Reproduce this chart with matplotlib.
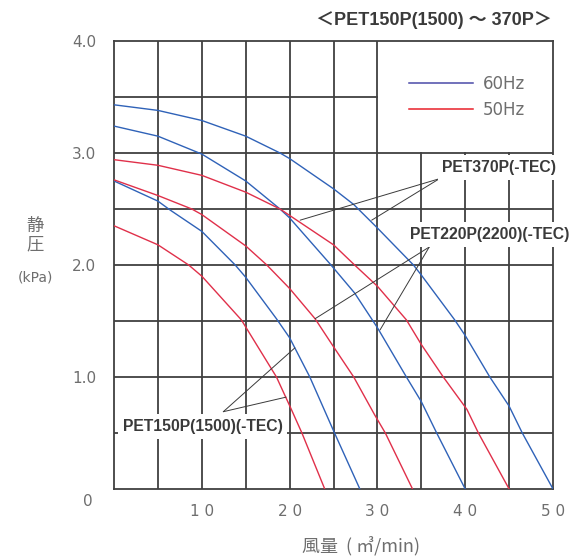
import matplotlib.pyplot as plt
from matplotlib.lines import Line2D

# fan curves: airflow (m3/min) vs static pressure (kPa)
x370_60 = [0, 5, 10, 15, 18.9, 20, 25, 27.3, 30, 34.1, 35, 38.8, 40, 42.8, 45, 46.5, 50]
y370_60 = [3.43, 3.38, 3.29, 3.15, 3.0, 2.95, 2.68, 2.54, 2.33, 2.0, 1.91, 1.51, 1.37, 1.0, 0.74, 0.5, 0]
x370_50 = [0, 5, 10, 15, 18.9, 25, 27.4, 30, 33.3, 35, 37.5, 40.2, 41.5, 45]
y370_50 = [2.94, 2.89, 2.80, 2.65, 2.5, 2.18, 2.0, 1.81, 1.51, 1.29, 1.0, 0.71, 0.5, 0]
x220_60 = [0, 5, 10, 15, 18.9, 20, 24.6, 27.4, 30, 33.3, 35, 36.75, 40]
y220_60 = [3.24, 3.15, 2.99, 2.75, 2.5, 2.42, 2.01, 1.75, 1.44, 1.0, 0.78, 0.5, 0]
x220_50 = [0, 5, 8.85, 10, 15, 17.4, 20, 22.9, 25, 27.3, 29.7, 30.9, 34]
y220_50 = [2.76, 2.62, 2.5, 2.45, 2.17, 2.0, 1.79, 1.52, 1.27, 1.0, 0.66, 0.5, 0]
x150_60 = [0, 5, 6.4, 10, 13.8, 15, 18.5, 20, 22.3, 25, 28]
y150_60 = [2.75, 2.57, 2.49, 2.30, 2.0, 1.89, 1.52, 1.35, 1.0, 0.52, 0]
x150_50 = [0, 5, 8.5, 10, 14.5, 18.5, 20.2, 21.4, 24]
y150_50 = [2.35, 2.18, 2.0, 1.90, 1.51, 1.0, 0.71, 0.5, 0]

labels = ['PET370P(-TEC)', 'PET220P(2200)(-TEC)', 'PET150P(1500)(-TEC)']
label_pos = [(43.9, 2.87), (42.75, 2.27), (10.1, 0.556)]
apex = [(37.06, 2.77), (35.9, 2.16), (12.45, 0.69)]
targets = [[(21.2, 2.40), (29.35, 2.40)],
           [(22.9, 1.52), (30.3, 1.42)],
           [(20.6, 1.26), (19.6, 0.82)]]

xticks = [10, 20, 30, 40, 50]
xticklabels = ['1 0', '2 0', '3 0', '4 0', '5 0']
yticks = [1, 2, 3, 4]
yticklabels = ['1.0', '2.0', '3.0', '4.0']

blue = '#2f62b8'
red = '#e0304a'
gridc = '#404040'
textc = '#6e6e6e'
cjk = ['Liberation Sans', 'Noto Sans CJK JP']

fig = plt.figure(figsize=(5.85, 5.58), dpi=100)
ax = fig.add_axes([0.1949, 0.1237, 0.7504, 0.8029])
ax.set_xlim(0, 50)
ax.set_ylim(0, 4)

# grid, left open where the legend sits
for gx in range(5, 50, 5):
    top = 4 if gx <= 30 else 3
    ax.plot([gx, gx], [0, top], color=gridc, lw=1.3, zorder=1)
for gy in [0.5, 1, 1.5, 2, 2.5, 3, 3.5]:
    right = 50 if gy <= 3 else 30
    ax.plot([0, right], [gy, gy], color=gridc, lw=1.3, zorder=1)
for s in ax.spines.values():
    s.set_color(gridc)
    s.set_linewidth(1.3)

ax.plot(x370_60, y370_60, color=blue, lw=1.0, zorder=3)
ax.plot(x220_60, y220_60, color=blue, lw=1.0, zorder=3)
ax.plot(x150_60, y150_60, color=blue, lw=1.0, zorder=3)
ax.plot(x370_50, y370_50, color=red, lw=1.0, zorder=3)
ax.plot(x220_50, y220_50, color=red, lw=1.0, zorder=3)
ax.plot(x150_50, y150_50, color=red, lw=1.0, zorder=3)

for lab, pos, ap, tg in zip(labels, label_pos, apex, targets):
    for t in tg:
        ax.annotate('', xy=t, xytext=ap,
                    arrowprops=dict(arrowstyle='-', lw=0.7, color='#3a3a3a',
                                    shrinkA=0, shrinkB=0), zorder=4)
    ax.text(pos[0], pos[1], lab, ha='center', va='center', fontsize=11.3,
            fontweight='bold', color='#3a3a3a', family='Liberation Sans',
            bbox=dict(facecolor='white', edgecolor='none', pad=3.5), zorder=5)

handles = [Line2D([0], [0], color='#4a4aa8', lw=1.1),
           Line2D([0], [0], color='#e8202a', lw=1.1)]
ax.legend(handles, ['60Hz', '50Hz'], loc='upper left', bbox_to_anchor=(0.672, 0.925),
          frameon=False, fontsize=12, handlelength=3.84, handletextpad=0.6,
          labelspacing=0.5, borderpad=0, borderaxespad=0, labelcolor=textc)

ax.set_xticks(xticks)
ax.set_xticklabels(xticklabels)
ax.set_yticks(yticks)
ax.set_yticklabels(yticklabels)
ax.tick_params(length=0, labelsize=11, labelcolor=textc)
ax.tick_params(axis='x', pad=11)
ax.tick_params(axis='y', pad=13)

fig.text(88 / 585, 1 - 502 / 558, '0', ha='center', va='center', fontsize=11, color=textc)
fig.text(433.5 / 585, 1 - 20 / 558, '＜PET150P(1500) ～ 370P＞', ha='center', va='center',
         fontsize=13, fontweight='bold', color='#3a3a3a', family=cjk)
fig.text(35 / 585, 1 - 235 / 558, '静\n圧', ha='center', va='center', fontsize=12.5,
         color=textc, family=['Noto Sans CJK JP'], linespacing=1.05)
fig.text(35 / 585, 1 - 278 / 558, '(kPa)', ha='center', va='center', fontsize=10, color=textc)
fig.text(361 / 585, 1 - 547 / 558, '風量  ( ㎥/min)', ha='center', va='center', fontsize=13,
         color=textc, family=['Noto Sans CJK JP', 'DejaVu Sans'])

fig.savefig('out.png', dpi=100)
